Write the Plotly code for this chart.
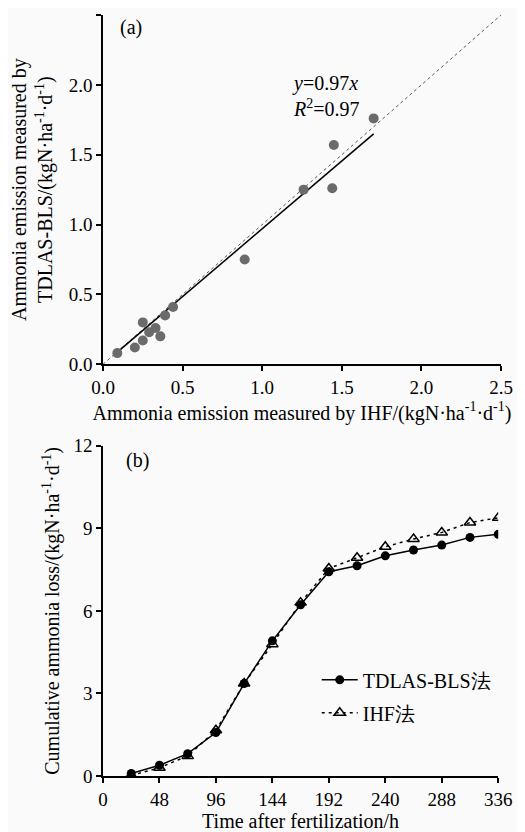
import plotly.graph_objects as go

# ---- Panel (a) data: IHF (x) vs TDLAS-BLS (y), kgN/ha/d ----
ihf_x = [0.09, 0.20, 0.25, 0.25, 0.29, 0.33, 0.36, 0.39, 0.44, 0.89, 1.26, 1.44, 1.45, 1.70]
tdlas_y = [0.08, 0.12, 0.30, 0.17, 0.23, 0.26, 0.20, 0.35, 0.41, 0.75, 1.25, 1.26, 1.57, 1.76]
slope = 0.97

# ---- Panel (b) data: cumulative ammonia loss ----
hours = [24, 48, 72, 96, 120, 144, 168, 192, 216, 240, 264, 288, 312, 336]
tdlas_cum = [0.09, 0.39, 0.81, 1.58, 3.36, 4.91, 6.22, 7.42, 7.64, 8.00, 8.21, 8.39, 8.67, 8.78]
ihf_cum = [0.02, 0.30, 0.73, 1.66, 3.36, 4.79, 6.30, 7.54, 7.93, 8.33, 8.61, 8.85, 9.21, 9.38]

x_ticks_a = [0.0, 0.5, 1.0, 1.5, 2.0, 2.5]
x_ticks_b = [0, 48, 96, 144, 192, 240, 288, 336]
y_ticks_b = [0, 3, 6, 9, 12]

FONT = "Times New Roman, Liberation Serif, serif"
BG = "#fafafa"

fig = go.Figure()

fig.add_trace(go.Scatter(x=[0, 2.5], y=[0, 2.5], mode="lines",
                         line=dict(color="#555555", width=1, dash="dot"),
                         showlegend=False, xaxis="x", yaxis="y", hoverinfo="skip"))
fx = [min(ihf_x), max(ihf_x)]
fig.add_trace(go.Scatter(x=fx, y=[slope * v for v in fx], mode="lines",
                         line=dict(color="black", width=1.5),
                         showlegend=False, xaxis="x", yaxis="y"))
fig.add_trace(go.Scatter(x=ihf_x, y=tdlas_y, mode="markers",
                         marker=dict(color="#6b6b6b", size=10),
                         showlegend=False, xaxis="x", yaxis="y"))

fig.add_trace(go.Scatter(x=hours, y=tdlas_cum, mode="lines+markers", name="TDLAS-BLS法",
                         line=dict(color="black", width=1.5),
                         marker=dict(symbol="circle", size=9, color="black"),
                         legendgroup="g1", xaxis="x2", yaxis="y2"))
fig.add_trace(go.Scatter(x=hours, y=ihf_cum, mode="lines+markers", name="IHF法",
                         line=dict(color="black", width=1.5, dash="3px,4px"),
                         marker=dict(symbol="triangle-up-open", size=10, color="black",
                                     line=dict(width=1.5, color="black")),
                         legendgroup="g2", xaxis="x2", yaxis="y2"))

axis_common = dict(showline=True, linecolor="black", linewidth=1.5, ticks="outside",
                   ticklen=5, tickwidth=1.5, tickcolor="black", showgrid=False,
                   zeroline=False, tickfont=dict(family=FONT, size=19, color="black"),
                   mirror=False, automargin=False)
title_font = dict(family=FONT, size=20, color="black")

# page body has an 8px margin, so the figure is sized to fit the 525x832 window
fig.update_layout(
    template="none",
    width=517, height=824,
    margin=dict(l=95, r=24, t=7, b=56),
    paper_bgcolor=BG, plot_bgcolor=BG,
    font=dict(family=FONT, color="black"),
    xaxis=dict(domain=[0, 1], range=[0, 2.5], tickvals=x_ticks_a,
               ticktext=[f"{v:.1f}" for v in x_ticks_a], anchor="y",
               title=dict(text="Ammonia emission measured by IHF/(kgN·ha<sup>-1</sup>·d<sup>-1</sup>)",
                          font=title_font, standoff=9),
               **axis_common),
    yaxis=dict(domain=[0.541, 1], range=[0, 2.5], tickvals=x_ticks_a,
               ticktext=[f"{v:.1f}" for v in x_ticks_a], anchor="x",
               title=dict(text="Ammonia emission measured by<br>TDLAS-BLS/(kgN·ha<sup>-1</sup>·d<sup>-1</sup>)",
                          font=title_font, standoff=13),
               **axis_common),
    xaxis2=dict(domain=[0, 0.993], range=[0, 336], tickvals=x_ticks_b, anchor="y2",
                title=dict(text="Time after fertilization/h", font=title_font, standoff=9),
                **axis_common),
    yaxis2=dict(domain=[0, 0.434], range=[0, 12], tickvals=y_ticks_b, anchor="x2",
                title=dict(text="Cumulative ammonia loss/(kgN·ha<sup>-1</sup>·d<sup>-1</sup>)",
                           font=title_font, standoff=8),
                **axis_common),
    legend=dict(x=0.537, y=0.152, xanchor="left", yanchor="top",
                font=dict(family=FONT, size=20, color="black"),
                bgcolor="rgba(0,0,0,0)", tracegroupgap=4, itemwidth=36),
    annotations=[
        dict(text="(a)", x=0.094, y=2.407, xref="x", yref="y", xanchor="left",
             yanchor="middle", showarrow=False, font=dict(family=FONT, size=20)),
        dict(text="<i>y</i>=0.97<i>x</i><br><i>R</i><sup>2</sup>=0.97", x=1.176, y=1.922,
             xref="x", yref="y", xanchor="left", yanchor="middle", align="left",
             showarrow=False, font=dict(family=FONT, size=20)),
        dict(text="(b)", x=17.6, y=11.48, xref="x2", yref="y2", xanchor="left",
             yanchor="middle", showarrow=False, font=dict(family=FONT, size=20)),
    ],
)

fig.write_html("out.html")
